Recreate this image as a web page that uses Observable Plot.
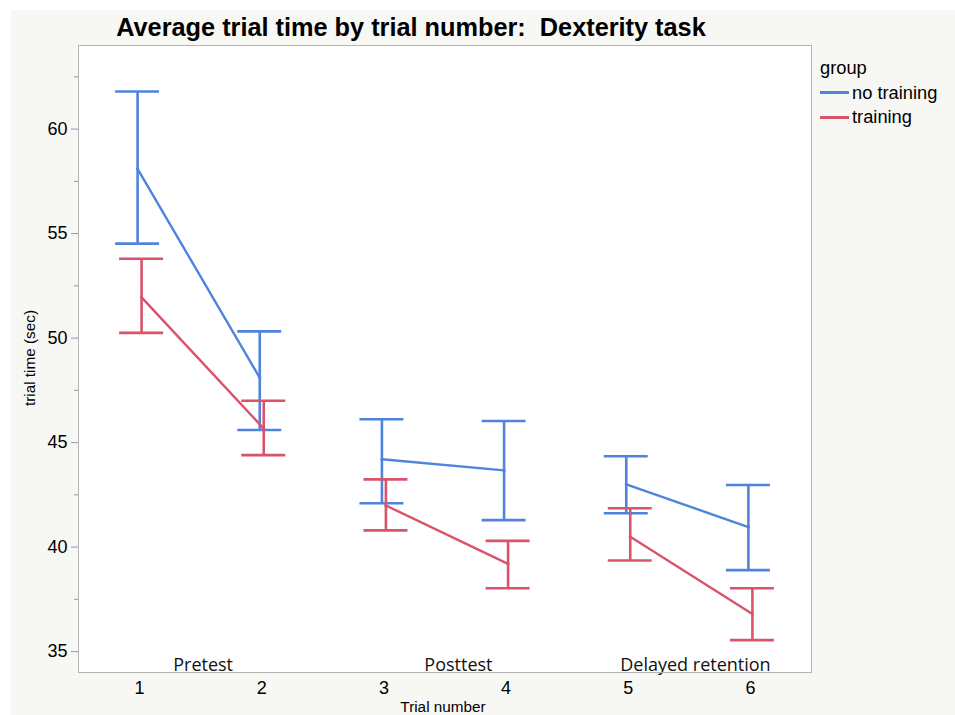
<!DOCTYPE html>
<html><head><meta charset="utf-8">
<script src="https://cdn.jsdelivr.net/npm/d3@7"></script>
<script src="https://cdn.jsdelivr.net/npm/@observablehq/plot@0.6"></script>
<style>
html,body{margin:0;padding:0;background:#fff;}
#wrap{position:relative;width:955px;height:715px;overflow:hidden;font-family:"Liberation Sans",Arial,sans-serif;}
#bg{position:absolute;left:11px;top:10px;right:0;bottom:0;background:#f7f7f4;}
#chart{position:absolute;left:0;top:0;}
.t{position:absolute;white-space:pre;color:#000;line-height:1;}
#title{left:0;width:822px;text-align:center;top:15px;font-size:25.3px;font-weight:bold;}
#ylab{left:30px;top:358px;font-size:15.3px;transform:translate(-50%,-50%) rotate(-90deg);}
#xlab{left:443px;top:707px;font-size:15.3px;transform:translate(-50%,-50%);}
#legend{position:absolute;left:820px;top:56px;font-size:18.3px;}
#legend .row{display:flex;align-items:center;height:24.5px;}
#legend .sw{width:29px;height:3px;margin-right:3px;}
</style></head><body>
<div id="wrap"><div id="bg"></div><div id="chart"></div>
<div class="t" id="title">Average trial time by trial number:  Dexterity task</div>
<div class="t" id="ylab">trial time (sec)</div>
<div class="t" id="xlab">Trial number</div>
<div id="legend"></div>
</div>
<script>
const trials = [1, 2, 3, 4, 5, 6];
const phaseOfTrial = ["Pretest", "Pretest", "Posttest", "Posttest", "Delayed retention", "Delayed retention"];
const groups = ["no training", "training"];
const groupColors = ["#4f84dd", "#d9536b"];
const noTrainingMean  = [58.1, 48.1, 44.2, 43.67, 43.0, 40.96];
const noTrainingUpper = [61.8, 50.32, 46.12, 46.03, 44.35, 42.97];
const noTrainingLower = [54.52, 45.6, 42.1, 41.29, 41.62, 38.9];
const trainingMean  = [51.95, 45.67, 41.99, 39.2, 40.5, 36.8];
const trainingUpper = [53.8, 47.0, 43.24, 40.3, 41.86, 38.03];
const trainingLower = [50.25, 44.4, 40.8, 38.03, 39.36, 35.55];
const phaseLabels = ["Pretest", "Posttest", "Delayed retention"];
const phaseLabelX = [1.52, 3.61, 5.55];
const yTicks = [35, 40, 45, 50, 55, 60];
const yMinorTicks = [37.5, 42.5, 47.5, 52.5, 57.5, 62.5];

const series = [
  {group: groups[0], mean: noTrainingMean, upper: noTrainingUpper, lower: noTrainingLower},
  {group: groups[1], mean: trainingMean, upper: trainingUpper, lower: trainingLower}
];
const capHalf = 0.18;
const rows = series.map(s => trials.map((t, i) => ({
  trial: t, phase: phaseOfTrial[i], group: s.group,
  mean: s.mean[i], upper: s.upper[i], lower: s.lower[i]
})));
const phaseRows = phaseLabels.map((p, i) => ({label: p, x: phaseLabelX[i]}));

const marks = [
  Plot.frame({fill: "white", stroke: null}),
  Plot.axisY(yMinorTicks, {tickSize: 4, stroke: "#999", text: null, label: null}),
  Plot.axisY(yTicks, {tickSize: 7, tickPadding: 4, stroke: "#999", fontSize: 18, label: null}),
  Plot.axisX(trials, {tickSize: 0, tickPadding: 9, fontSize: 18, tickFormat: "d", label: null}),
  Plot.text(phaseRows, {x: "x", text: "label", frameAnchor: "bottom", lineAnchor: "bottom", dy: -2, fontSize: 18, fontFamily: "Open Sans", fill: "#111"})
];
rows.forEach((data, gi) => {
  const color = groupColors[gi];
  const dx = gi === 0 ? -2 : 2;
  marks.push(
    Plot.ruleX(data, {x: "trial", y1: "lower", y2: "upper", stroke: color, strokeWidth: 2.6, dx}),
    Plot.ruleY(data, {y: "upper", x1: d => d.trial - capHalf, x2: d => d.trial + capHalf, stroke: color, strokeWidth: 2.6, dx}),
    Plot.ruleY(data, {y: "lower", x1: d => d.trial - capHalf, x2: d => d.trial + capHalf, stroke: color, strokeWidth: 2.6, dx}),
    Plot.line(data, {x: "trial", y: "mean", z: "phase", stroke: color, strokeWidth: 2.4, dx}),
    Plot.dot(data, {x: "trial", y: "mean", r: 1.6, fill: color, dx})
  );
});
marks.push(Plot.frame({stroke: "#b5b5b5", strokeWidth: 1}));

const chart = Plot.plot({
  width: 955, height: 715,
  marginLeft: 78, marginRight: 144, marginTop: 45, marginBottom: 43,
  style: {background: "transparent", fontFamily: "Liberation Sans, Arial, sans-serif", color: "#000"},
  x: {domain: [0.5, 6.5]},
  y: {domain: [34, 64]},
  marks
});
document.getElementById("chart").appendChild(chart);

const legend = document.getElementById("legend");
const head = document.createElement("div");
head.className = "row"; head.textContent = "group";
legend.appendChild(head);
groups.forEach((g, i) => {
  const row = document.createElement("div");
  row.className = "row";
  const sw = document.createElement("span");
  sw.className = "sw"; sw.style.background = groupColors[i];
  const lab = document.createElement("span");
  lab.textContent = g;
  row.appendChild(sw); row.appendChild(lab);
  legend.appendChild(row);
});
</script>
</body></html>
